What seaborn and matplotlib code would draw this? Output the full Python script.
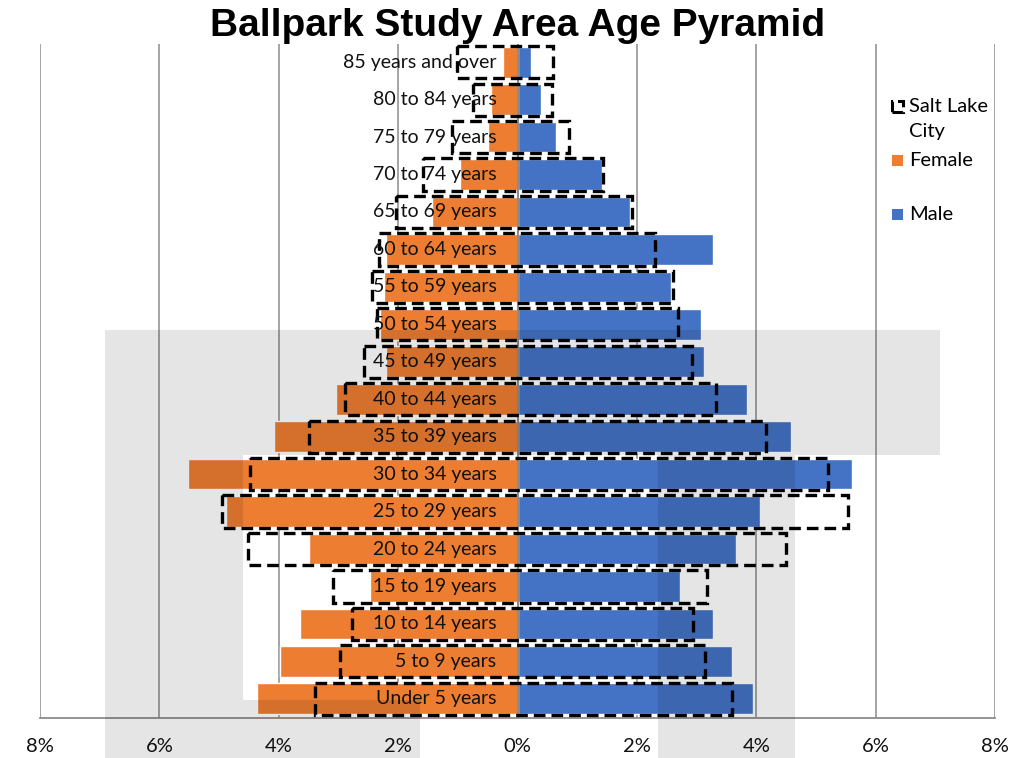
import numpy as np
import pandas as pd
import seaborn as sns
import matplotlib.pyplot as plt
from matplotlib.patches import Rectangle

# Age groups, top to bottom
ages = ["85 years and over", "80 to 84 years", "75 to 79 years", "70 to 74 years",
        "65 to 69 years", "60 to 64 years", "55 to 59 years", "50 to 54 years",
        "45 to 49 years", "40 to 44 years", "35 to 39 years", "30 to 34 years",
        "25 to 29 years", "20 to 24 years", "15 to 19 years", "10 to 14 years",
        "5 to 9 years", "Under 5 years"]

# Ballpark study area, % of population
female = [0.25, 0.45, 0.5, 0.97, 1.43, 2.2, 2.23, 2.3, 2.2, 3.04,
          4.08, 5.52, 4.88, 3.49, 2.47, 3.64, 3.98, 4.36]
male = [0.22, 0.4, 0.65, 1.41, 1.88, 3.27, 2.58, 3.08, 3.12, 3.84,
        4.58, 5.6, 4.06, 3.66, 2.72, 3.27, 3.6, 3.94]

# Salt Lake City, % of population
slc_female = [1.02, 0.75, 1.09, 1.59, 2.03, 2.32, 2.43, 2.35, 2.58, 2.89,
              3.5, 4.48, 4.95, 4.51, 3.09, 2.77, 2.97, 3.39]
slc_male = [0.59, 0.57, 0.87, 1.43, 1.91, 2.31, 2.6, 2.69, 2.92, 3.32,
            4.16, 5.2, 5.54, 4.5, 3.17, 2.94, 3.14, 3.59]

xticks = [-8, -6, -4, -2, 0, 2, 4, 6, 8]
xtick_labels = [f"{abs(t)}%" for t in xticks]

ORANGE = "#ED7D31"
BLUE = "#4472C4"

df = pd.DataFrame({"age": ages, "female": female, "male": male,
                   "slc_female": slc_female, "slc_male": slc_male})

sns.set_theme(style="white")
plt.rcParams["font.family"] = ["Lato", "DejaVu Sans"]
plt.rcParams["text.color"] = "black"

W, H = 1026, 758
fig = plt.figure(figsize=(W / 100, H / 100), dpi=100)
ax = fig.add_axes([40 / W, 1 - 717.5 / H, (995 - 40) / W, (717.5 - 43.5) / H])

ax.set_axisbelow(True)
ax.grid(axis="x", color="#8c8c8c", lw=1.1)

sns.barplot(data=df, x=-df["female"], y="age", order=ages, orient="h",
            color=ORANGE, saturation=1, width=0.82, ax=ax, zorder=2)
sns.barplot(data=df, x="male", y="age", order=ages, orient="h",
            color=BLUE, saturation=1, width=0.82, ax=ax, zorder=2)

# Salt Lake City outline boxes spanning female to male
ypos = np.arange(len(ages))
ax.barh(ypos, df["slc_female"] + df["slc_male"], left=-df["slc_female"],
        height=0.86, fill=False, edgecolor="black", lw=2.4,
        linestyle=(0, (3.5, 1.8)), zorder=4)

ax.axvline(0, color="#8c8c8c", lw=1.5, zorder=3)

# age labels sitting over the bars
for y, lab in zip(ypos, ages):
    ax.text(-0.35, y, lab, ha="right", va="center", fontsize=14,
            color="#111111", zorder=5)

ax.set_xlim(-8, 8)
ax.set_ylim(len(ages) - 0.5, -0.5)
ax.set_xticks(xticks)
ax.set_xticklabels(xtick_labels, fontsize=14.5)
ax.set_yticks([])
ax.set_xlabel("")
ax.set_ylabel("")
for s in ["top", "left", "right"]:
    ax.spines[s].set_visible(False)
ax.spines["bottom"].set_color("#8c8c8c")
ax.spines["bottom"].set_linewidth(1.3)
ax.tick_params(axis="x", direction="out", length=6, width=1.1,
               color="#8c8c8c", pad=9, labelcolor="#111111")

# legend, laid out like the Excel one
def fx(px):
    return px / W


def fy(py):
    return 1 - py / H


fig.add_artist(Rectangle((fx(892), fy(112)), 11 / W, 11 / H, transform=fig.transFigure,
                         facecolor="none", edgecolor="black", lw=2.2, linestyle="--"))
fig.add_artist(Rectangle((fx(892), fy(166)), 11 / W, 11 / H, transform=fig.transFigure,
                         facecolor=ORANGE, lw=0))
fig.add_artist(Rectangle((fx(892), fy(220)), 11 / W, 11 / H, transform=fig.transFigure,
                         facecolor=BLUE, lw=0))
for py, txt in [(106, "Salt Lake"), (132, "City"), (160, "Female"), (214, "Male")]:
    fig.text(fx(909), fy(py), txt, ha="left", va="center", fontsize=14.5)

fig.text(518 / W, 1 - 26 / H, "Ballpark Study Area Age Pyramid",
         ha="center", va="center", fontsize=28, fontweight="bold",
         family=["Liberation Sans", "DejaVu Sans"], color="black")

# grey screenshot shading over parts of the chart
for x0, y0, x1, y1 in [(105, 330, 940, 455), (105, 455, 243, 758),
                       (243, 700, 420, 758), (658, 455, 795, 758)]:
    fig.add_artist(Rectangle((x0 / W, 1 - y1 / H), (x1 - x0) / W, (y1 - y0) / H,
                             transform=fig.transFigure, facecolor="black",
                             alpha=0.1, lw=0, zorder=10))

fig.savefig("out.png", dpi=100)
